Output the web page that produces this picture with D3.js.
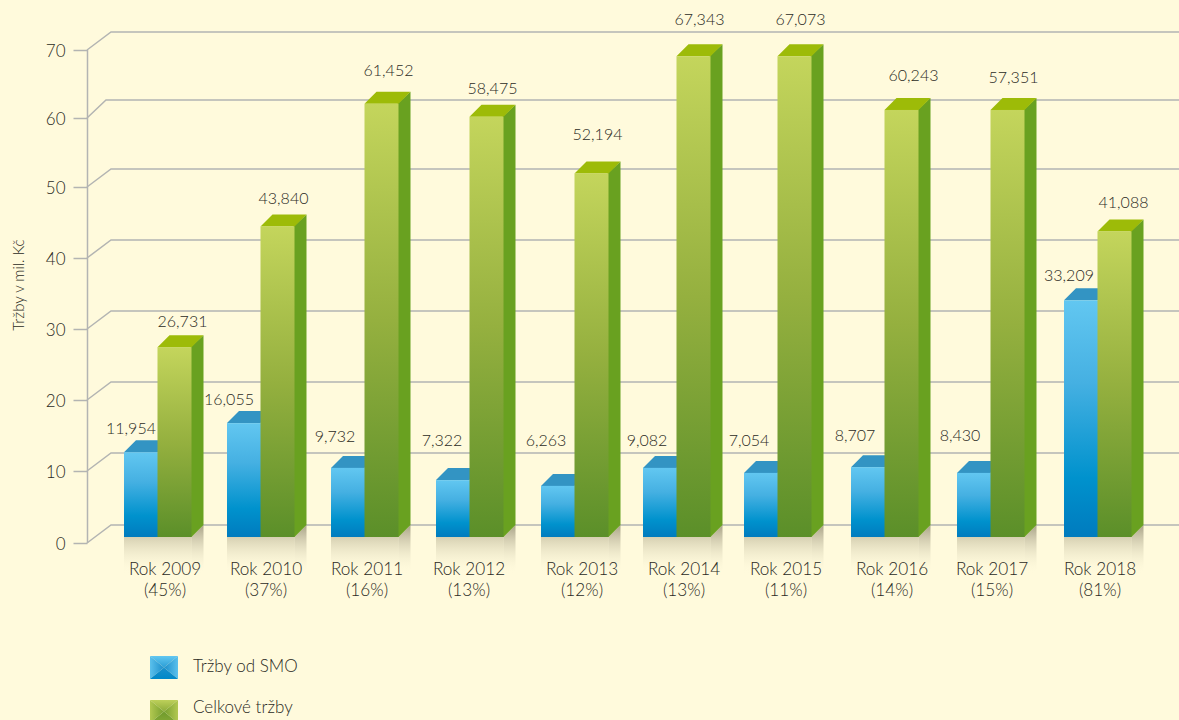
<!DOCTYPE html>
<html>
<head>
<meta charset="utf-8">
<script src="https://cdnjs.cloudflare.com/ajax/libs/d3/7.8.5/d3.min.js"></script>
<style>
  html, body { margin: 0; padding: 0; background: #fffadc; overflow: hidden; }
  text { font-family: Lato, sans-serif; font-weight: 300; fill: #2b2a24; }
</style>
</head>
<body>
<div id="chart"></div>
<script>
var years = ["Rok 2009","Rok 2010","Rok 2011","Rok 2012","Rok 2013","Rok 2014","Rok 2015","Rok 2016","Rok 2017","Rok 2018"];
var shares = ["(45%)","(37%)","(16%)","(13%)","(12%)","(13%)","(11%)","(14%)","(15%)","(81%)"];
// printed numbers
var smoLabels = ["11,954","16,055","9,732","7,322","6,263","9,082","7,054","8,707","8,430","33,209"];
var totalLabels = ["26,731","43,840","61,452","58,475","52,194","67,343","67,073","60,243","57,351","41,088"];
// bar heights as drawn, they do not always agree with the printed numbers
var smoValues = [11.8,15.9,9.6,7.9,7.1,9.6,8.9,9.7,8.9,33.2];
var totalValues = [26.6,43.6,61.2,59.3,51.1,68.2,68.2,60.3,60.3,42.9];
var yTicks = [0,10,20,30,40,50,60,70];
var legendNames = ["Tržby od SMO","Celkové tržby"];

var width = 1179, height = 720;
var depth = 12;          // bar extrusion
var wallDepth = {x: 24, y: -18};
var floorShift = -6;     // bars stand a bit above the axis zero
var shadowHeight = 37;

// the picture is hand spaced, so the scales carry the measured steps
var x = d3.scaleOrdinal()
  .domain(years)
  .range([124,227,331,436,541,643,744,851,957,1064]);
var labelX = d3.scaleOrdinal()
  .domain(years)
  .range([165,266,367,469,582,684,786,892,992,1100]);
var y = d3.scaleLinear()
  .domain(yTicks)
  .range([543,471,400,329,258,187,118,50]);
var blueWidth = 33.5, greenWidth = 34;

var smoLift = [18,18,26,34,40,22,27,26,32,19];
var totalLift = [20,22,28,23,33,31,31,29,27,23];
var smoShift = [7,2,4,6,5,4,5,4,3,5];
var totalShift = [25,23,24,23,23,23,23,29,23,26];

var svg = d3.select("#chart").append("svg")
  .attr("width", width)
  .attr("height", height)
  .style("display", "block");

var defs = svg.append("defs");
function addGradient(id, stops, x2, y2, x1, y1) {
  var g = defs.append("linearGradient").attr("id", id)
    .attr("x1", x1 || 0).attr("y1", y1 || 0).attr("x2", x2).attr("y2", y2);
  stops.forEach(function(s) {
    g.append("stop").attr("offset", s[0]).attr("stop-color", s[1]).attr("stop-opacity", s[2] === undefined ? 1 : s[2]);
  });
}
addGradient("blueBar", [[0,"#62c7f1"],[0.35,"#45b0e2"],[0.75,"#0092cd"],[1,"#007bbe"]], 0, 1);
addGradient("greenBar", [[0,"#c4d55c"],[0.5,"#95b03f"],[1,"#5b8f29"]], 0, 1);
addGradient("shadowFront", [[0,"#d6d0b2"],[1,"#fffadc",0]], 0, 1);
addGradient("shadowSide", [[0,"#a8a287"],[1,"#fffadc",0]], 0, 1);
// legend pyramid faces
addGradient("blueTop", [[0,"#62c7f1"],[1,"#2a9ed6"]], 0, 1);
addGradient("blueLeft", [[0,"#5bc0ec"],[1,"#1c8fcc"]], 1, 0);
addGradient("blueRight", [[0,"#1c8fcc"],[1,"#5bc0ec"]], 1, 0);
addGradient("blueBottom", [[0,"#1a90cc"],[1,"#0088c8"]], 0, 1);
addGradient("greenTop", [[0,"#bdd05a"],[1,"#8dac3a"]], 0, 1);
addGradient("greenLeft", [[0,"#b2c851"],[1,"#78a02f"]], 1, 0);
addGradient("greenRight", [[0,"#78a02f"],[1,"#b2c851"]], 1, 0);
addGradient("greenBottom", [[0,"#6f9a2c"],[1,"#85a935"]], 0, 1);

// back wall grid
var grid = svg.append("g").attr("fill", "none").attr("stroke", "#b3b4b2").attr("stroke-width", 1.5);
yTicks.forEach(function(t) {
  var backX = t === 60 ? 106 : 87 + wallDepth.x;
  grid.append("path")
    .attr("d", d3.line()([[87, y(t)], [backX, y(t) + wallDepth.y], [width, y(t) + wallDepth.y]]));
});

// axis
var axis = svg.append("g")
  .attr("transform", "translate(87.5,0)")
  .call(d3.axisLeft(y).tickValues(yTicks).tickSize(14).tickPadding(8).tickFormat(d3.format("d")));
axis.selectAll("path.domain").attr("stroke", "#b3b4b2").attr("stroke-width", 1.5)
  .attr("d", "M0," + y(0) + "V" + y(70));
axis.selectAll(".tick line").attr("stroke", "#b3b4b2").attr("stroke-width", 1.5);
axis.selectAll(".tick text").style("font-family", "Lato, sans-serif").style("font-size", "17px").attr("y", 1).attr("fill", "#2b2a24");

svg.append("text")
  .attr("transform", "translate(24,285) rotate(-90)")
  .attr("text-anchor", "middle")
  .attr("font-size", "15px")
  .text("Tržby v mil. Kč");

// bars
years.forEach(function(year, i) {
  var g = svg.append("g").attr("class", "group");
  var left = x(year);
  var mid = left + blueWidth;
  var right = mid + greenWidth;
  var base = y(0) + floorShift;
  var smoTop = y(smoValues[i]) + floorShift;
  var totalTop = y(totalValues[i]) + floorShift;

  // floor shadow
  g.append("rect")
    .attr("x", left).attr("y", base)
    .attr("width", right - left).attr("height", shadowHeight)
    .attr("fill", "url(#shadowFront)");
  g.append("path")
    .attr("d", d3.line()([[right, base], [right + depth, base - depth], [right + depth, base + shadowHeight], [right, base + shadowHeight]]))
    .attr("fill", "url(#shadowSide)");

  // blue bar, runs a pixel under the green one so no seam shows
  g.append("path")
    .attr("d", d3.line()([[left, smoTop], [left + depth, smoTop - depth], [mid + depth, smoTop - depth], [mid, smoTop]]))
    .attr("fill", "#3394c3");
  g.append("rect")
    .attr("x", left).attr("y", smoTop)
    .attr("width", blueWidth + 1).attr("height", base - smoTop)
    .attr("fill", "url(#blueBar)");

  // green bar
  g.append("path")
    .attr("d", d3.line()([[right - 1, totalTop], [right + depth, totalTop - depth], [right + depth, base - depth], [right, base], [right - 1, base]]))
    .attr("fill", "#69a120");
  g.append("path")
    .attr("d", d3.line()([[mid, totalTop], [mid + depth, totalTop - depth], [right + depth, totalTop - depth], [right, totalTop]]))
    .attr("fill", "#9dbb08");
  g.append("rect")
    .attr("x", mid).attr("y", totalTop)
    .attr("width", greenWidth).attr("height", base - totalTop)
    .attr("fill", "url(#greenBar)");

  // value labels
  g.append("text")
    .attr("x", left + smoShift[i]).attr("y", smoTop - smoLift[i])
    .attr("text-anchor", "middle").attr("font-size", "16px")
    .text(smoLabels[i]);
  g.append("text")
    .attr("x", mid + totalShift[i]).attr("y", totalTop - totalLift[i])
    .attr("text-anchor", "middle").attr("font-size", "16px")
    .text(totalLabels[i]);

  // category labels
  g.append("text")
    .attr("x", labelX(year)).attr("y", 575)
    .attr("text-anchor", "middle").attr("font-size", "17.2px")
    .text(year);
  g.append("text")
    .attr("x", labelX(year)).attr("y", 596)
    .attr("text-anchor", "middle").attr("font-size", "17.2px")
    .text(shares[i]);
});

// legend, swatches are little pyramids
var legendFaces = ["blue","green"];
legendNames.forEach(function(name, i) {
  var gx = 150, gy = 656 + i * 44, w = 28, h = 23;
  var cx = gx + w / 2, cy = gy + h / 2;
  var face = legendFaces[i];
  var tri = svg.append("g").attr("class", "legend");
  [[[gx, gy], [gx + w, gy], "Top"], [[gx, gy], [gx, gy + h], "Left"], [[gx + w, gy], [gx + w, gy + h], "Right"], [[gx, gy + h], [gx + w, gy + h], "Bottom"]]
    .forEach(function(t) {
      tri.append("path")
        .attr("d", d3.line()([t[0], t[1], [cx, cy]]) + "Z")
        .attr("fill", "url(#" + face + t[2] + ")");
    });
  tri.append("text")
    .attr("x", 193).attr("y", i === 0 ? 672 : 713)
    .attr("font-size", "17px")
    .text(name);
});
</script>
</body>
</html>
